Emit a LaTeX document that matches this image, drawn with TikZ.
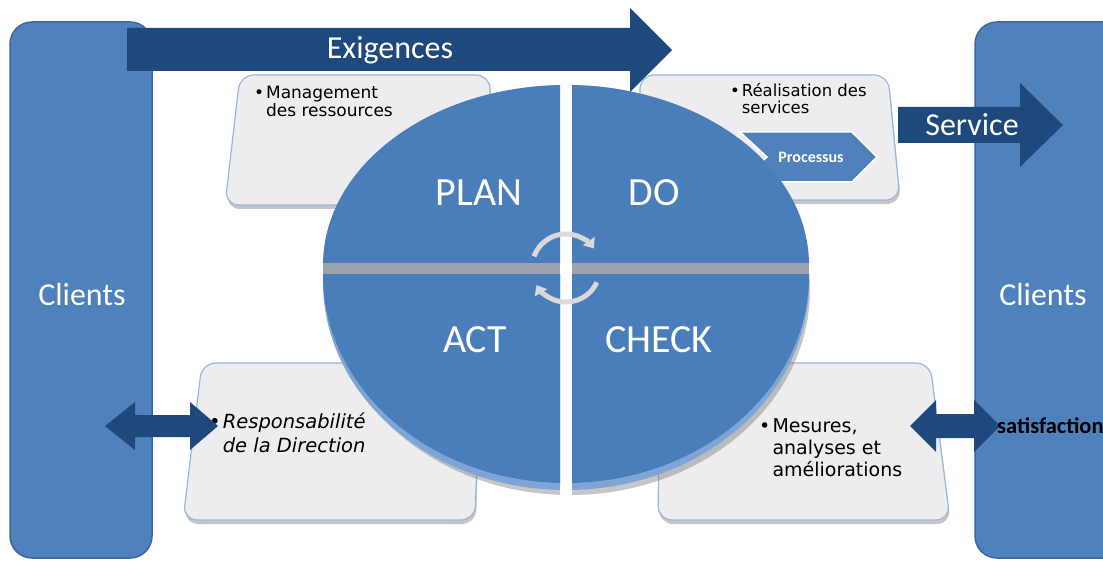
\documentclass[tikz,border=0pt]{standalone}
\usepackage{fontspec}
\setmainfont{Carlito}
\newfontfamily\boitefont{DejaVu Sans}
\usetikzlibrary{arrows.meta, shadows}

\definecolor{bleuBarre}{HTML}{4F81BD}
\definecolor{bordBarre}{HTML}{3C679B}
\definecolor{bleuFleche}{HTML}{1F497D}
\definecolor{bleuDisque}{HTML}{4A7EBB}
\definecolor{rebordDisque}{HTML}{7FA5D6}
\definecolor{flancDisque}{HTML}{9AA2AC}
\definecolor{fondBoite}{HTML}{EDEDEF}
\definecolor{bordBoite}{HTML}{9DB6D8}

\newcommand{\puce}{\makebox[0.7em][l]{\textbullet}}
\newcommand{\alinea}{\hspace*{0.7em}}

\tikzset{
    barre/.style={draw=bordBarre, line width=1.5pt, fill=bleuBarre, rounded corners=22pt},
    boite/.style={draw=bordBoite, line width=1.2pt, fill=fondBoite, rounded corners=14pt,
        drop shadow={opacity=0.45, shadow xshift=1pt, shadow yshift=-4pt}},
    fleche/.style={fill=bleuFleche},
    quartier/.style={fill=bleuDisque},
    anneau/.style={draw=gray!30, line width=5pt, -{Triangle[length=9pt, width=14pt]}},
    grand/.style={text=white, font=\fontsize{32}{36}\selectfont},
    phase/.style={text=white, font=\fontsize{40}{44}\selectfont},
    puceTexte/.style={inner sep=0pt, anchor=north west, align=left, text=black},
}

\begin{document}
\begin{tikzpicture}[x=1pt, y=-1pt]
    \useasboundingbox (0,0) rectangle (1103,561);

    \begin{scope}
        \draw [barre] (10,22) rectangle (152,558);
        \draw [barre] (975,22) rectangle (1135,558);
        \node [grand] (clientsG) at (82,295) {Clients};
        \node [grand] (clientsD) at (1043,295) {Clients};
    \end{scope}

    \begin{scope}
        \draw [boite] (240,75) -- (490,75) -- (490,205) -- (225,205) -- cycle;
        \draw [boite] (640,75) -- (888,75) -- (900,200) -- (640,200) -- cycle;
        \draw [boite] (202,363) -- (480,363) -- (475,520) -- (183,520) -- cycle;
        \draw [boite] (660,363) -- (930,363) -- (950,520) -- (658,520) -- cycle;
    \end{scope}

    \node [puceTexte, font=\boitefont\fontsize{17}{17.5}\selectfont] (ressources) at (254,86)
        {\puce Management\\ \alinea des ressources};
    \node [puceTexte, font=\boitefont\fontsize{16.5}{17.5}\selectfont] (realisation) at (730,83)
        {\puce Réalisation des\\ \alinea services};
    \node [puceTexte, font=\boitefont\itshape\fontsize{19.5}{24}\selectfont] (direction) at (209,413)
        {\puce Responsabilité\\ \alinea de la Direction};
    \node [puceTexte, font=\boitefont\fontsize{19}{22}\selectfont] (mesures) at (759,418)
        {\puce Mesures,\\ \alinea analyses et\\ \alinea améliorations};

    \draw [draw=white, line width=1.5pt, fill=bleuBarre] (740,132) -- (852,132) -- (877,157) -- (852,182)
        -- (740,182) -- (767,157) -- cycle;
    \node [text=white, font=\bfseries\fontsize{16}{18}\selectfont] (processus) at (811,157) {Processus};

    \fill [gray, opacity=0.45] (570,290) ellipse [x radius=240, y radius=205];
    \begin{scope}
        \clip (300,263) rectangle (830,276);
        \fill [flancDisque] (566,270) ellipse [x radius=243, y radius=200];
    \end{scope}
    \fill [white] (560,70) rectangle (572,515);
    \foreach \xa/\xb in {300/560, 572/830} {
        \begin{scope}
            \clip (\xa,60) rectangle (\xb,263);
            \fill [quartier] (566,265) ellipse [x radius=243, y radius=180];
        \end{scope}
        \begin{scope}
            \clip (\xa,275) rectangle (\xb,520);
            \fill [rebordDisque] (566,282) ellipse [x radius=243, y radius=208];
            \fill [quartier] (566,275) ellipse [x radius=243, y radius=208];
        \end{scope}
    }

    \node [phase] (plan) at (479,193) {PLAN};
    \node [phase] (do) at (654,193) {DO};
    \node [phase] (act) at (475,340) {ACT};
    \node [phase] (check) at (659,340) {CHECK};

    \draw [anneau] (566,268) ++(200:34) arc [start angle=200, end angle=325, radius=34];
    \draw [anneau] (566,268) ++(25:34) arc [start angle=25, end angle=150, radius=34];

    \fill [fleche] (127,28) -- (630,28) -- (630,8) -- (672,50) -- (630,92) -- (630,71) -- (127,71) -- cycle;
    \node [grand] (exigences) at (390,50) {Exigences};

    \fill [fleche] (898,107) -- (1020,107) -- (1020,83) -- (1063,125) -- (1020,167) -- (1020,143)
        -- (898,143) -- cycle;
    \node [grand] (service) at (972,125) {Service};

    \fill [fleche] (105,426) -- (135,402) -- (135,415) -- (190,415) -- (190,402) -- (218,426)
        -- (190,450) -- (190,437) -- (135,437) -- (135,450) -- cycle;
    \fill [fleche] (910,426) -- (936,400) -- (936,414) -- (974,414) -- (974,400) -- (1000,426)
        -- (974,452) -- (974,438) -- (936,438) -- (936,452) -- cycle;
    \node [anchor=west, inner sep=0pt, font=\bfseries\fontsize{22.5}{24}\selectfont] (satisfaction)
        at (997,426) {satisfaction};
\end{tikzpicture}
\end{document}
